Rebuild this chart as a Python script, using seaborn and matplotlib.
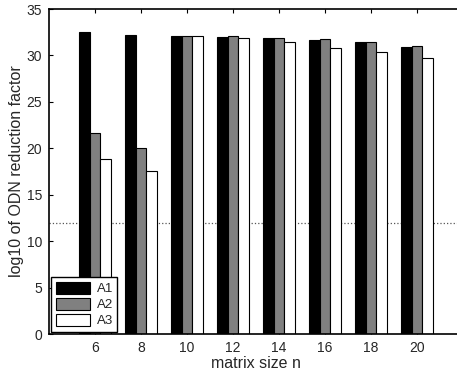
import pandas as pd
import numpy as np
import matplotlib.pyplot as plt
import seaborn as sns

# values
sizes = [6, 8, 10, 12, 14, 16, 18, 20]
a1 = [32.5, 32.2, 32.1, 32.0, 31.9, 31.7, 31.4, 30.95]
a2 = [21.7, 20.0, 32.1, 32.05, 31.9, 31.75, 31.45, 31.05]
a3 = [18.8, 17.6, 32.1, 31.85, 31.4, 30.85, 30.35, 29.7]
threshold = 12

df = pd.DataFrame({'n': sizes * 3,
                   'val': a1 + a2 + a3,
                   'method': ['A1'] * 8 + ['A2'] * 8 + ['A3'] * 8})

sns.set_style('white')
plt.rcParams['font.family'] = ['Liberation Sans', 'DejaVu Sans']

fig = plt.figure(figsize=(4.57, 3.72), dpi=100)
ax = fig.add_axes([49 / 457, 1 - 334 / 372, 414 / 457, 325 / 372])

ax = sns.barplot(data=df, x='n', y='val', hue='method', ax=ax,
                 palette=['black', '#808080', 'white'], width=0.69,
                 edgecolor='black', linewidth=0.8, saturation=1)

ax.axhline(threshold, color='#555555', linestyle=':', linewidth=0.9, zorder=0)

ax.set_xlim(-1, 8)
ax.set_ylim(0, 35)
ax.set_yticks(np.arange(0, 36, 5))
ax.set_xlabel('matrix size n', fontsize=11.5, labelpad=1)
ax.set_ylabel('log10 of ODN reduction factor', fontsize=11.5, labelpad=2)
ax.tick_params(direction='in', length=3, width=0.8, labelsize=10, pad=5,
               top=True, right=True, bottom=True, left=True, color='black')
for s in ax.spines.values():
    s.set_color('black')
    s.set_linewidth(1.2)

leg = ax.legend(loc='lower left', fontsize=9.5, fancybox=False, framealpha=1,
                edgecolor='black', handlelength=2.6, handleheight=1.0,
                borderaxespad=0.15, labelspacing=0.2, handletextpad=0.5,
                borderpad=0.35)
leg.get_frame().set_linewidth(1.0)

fig.savefig('out.png', dpi=100)
